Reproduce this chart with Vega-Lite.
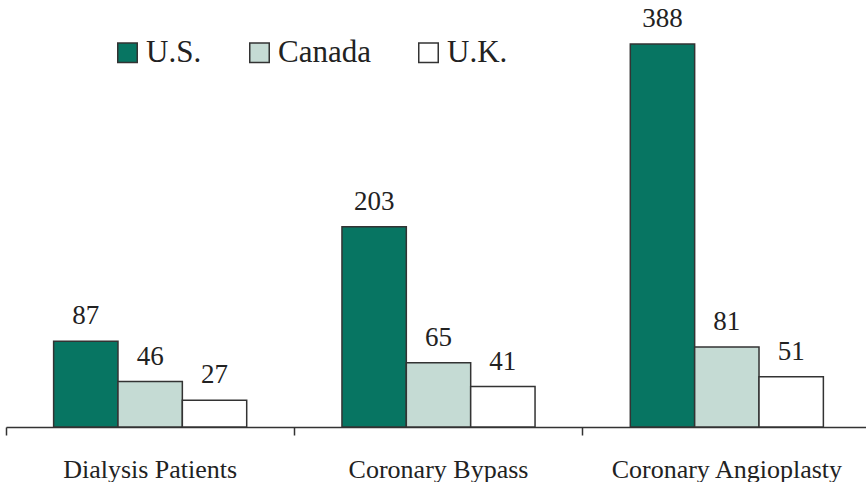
{
  "$schema": "https://vega.github.io/schema/vega-lite/v6.json",
  "width": 860,
  "height": 427,
  "autosize": {"type": "none"},
  "padding": {"left": 6, "top": 0, "right": 0, "bottom": 55},
  "background": "white",
  "config": {"view": {"stroke": null}, "font": "Liberation Serif"},
  "data": {
    "values": [
      {"category": "Dialysis Patients", "country": "U.S.", "value": 87},
      {"category": "Dialysis Patients", "country": "Canada", "value": 46},
      {"category": "Dialysis Patients", "country": "U.K.", "value": 27},
      {"category": "Coronary Bypass", "country": "U.S.", "value": 203},
      {"category": "Coronary Bypass", "country": "Canada", "value": 65},
      {"category": "Coronary Bypass", "country": "U.K.", "value": 41},
      {"category": "Coronary Angioplasty", "country": "U.S.", "value": 388},
      {"category": "Coronary Angioplasty", "country": "Canada", "value": 81},
      {"category": "Coronary Angioplasty", "country": "U.K.", "value": 51}
    ]
  },
  "encoding": {
    "x": {
      "field": "category",
      "type": "nominal",
      "sort": ["Dialysis Patients", "Coronary Bypass", "Coronary Angioplasty"],
      "scale": {"paddingInner": 0, "paddingOuter": 0, "range": [0, 865]},
      "axis": {
        "title": null,
        "labelAngle": 0,
        "bandPosition": 0,
        "domainColor": "#333333",
        "domainWidth": 1.5,
        "tickColor": "#333333",
        "tickWidth": 1.5,
        "tickSize": 8,
        "labelFont": "Liberation Serif",
        "labelFontSize": 26,
        "labelColor": "#222222",
        "labelBaseline": "alphabetic",
        "labelPadding": 42,
        "labelLimit": 400,
        "grid": false
      }
    },
    "xOffset": {
      "field": "country",
      "type": "nominal",
      "sort": ["U.S.", "Canada", "U.K."],
      "scale": {"paddingInner": 0, "paddingOuter": 0.74}
    },
    "y": {
      "field": "value",
      "type": "quantitative",
      "scale": {"domain": [0, 432.6], "nice": false, "zero": true},
      "axis": null
    }
  },
  "layer": [
    {
      "mark": {"type": "bar", "stroke": "#333333", "strokeWidth": 1.5},
      "encoding": {
        "color": {
          "field": "country",
          "type": "nominal",
          "sort": ["U.S.", "Canada", "U.K."],
          "scale": {"domain": ["U.S.", "Canada", "U.K."], "range": ["#077562", "#c5dbd4", "#ffffff"]},
          "legend": {
            "title": null,
            "orient": "none",
            "legendX": 106,
            "legendY": 37,
            "direction": "horizontal",
            "symbolType": "square",
            "symbolSize": 380,
            "symbolStrokeColor": "#333333",
            "symbolStrokeWidth": 1.5,
            "symbolOpacity": 1,
            "labelFont": "Liberation Serif",
            "labelFontSize": 31,
            "labelColor": "#222222",
            "labelOffset": 3,
            "columnPadding": 42,
            "labelLimit": 300
          }
        }
      }
    },
    {
      "mark": {"type": "text", "baseline": "alphabetic", "dy": -17, "fontSize": 27, "font": "Liberation Serif", "color": "#222222"},
      "encoding": {
        "text": {"field": "value", "type": "quantitative"}
      }
    }
  ]
}
